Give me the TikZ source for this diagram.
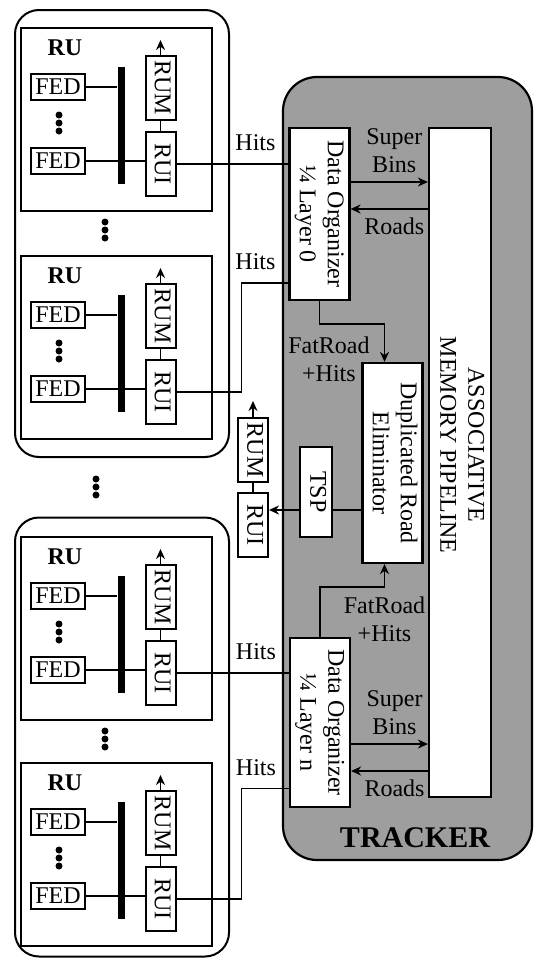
\documentclass[tikz,border=0pt]{standalone}
\usepackage{graphicx}
\usepackage{fontspec}
\setmainfont{Liberation Serif}
\usetikzlibrary{arrows.meta,positioning,calc}

\newcommand{\sideText}[1]{\rotatebox{-90}{\begin{tabular}{@{}c@{}}#1\end{tabular}}}

\begin{document}
\begin{tikzpicture}[
    x=0.5pt, y=-0.5pt,
    font=\fontsize{12}{14}\selectfont,
    groupBox/.style={
        rectangle, rounded corners=12pt, draw, line width=1pt,
        minimum width=107pt, minimum height=223.5pt, inner sep=0pt
    },
    ruBox/.style={
        rectangle, draw, line width=1pt,
        minimum width=95.5pt, minimum height=91.5pt, inner sep=0pt
    },
    fedBox/.style={
        rectangle, draw, line width=1pt,
        minimum width=27pt, minimum height=13pt, inner sep=0.5pt
    },
    busBar/.style={
        rectangle, fill=black, minimum width=3.5pt, minimum height=58.5pt, inner sep=0pt
    },
    ruiBox/.style={
        rectangle, draw, line width=1pt, fill=white,
        minimum width=13.5pt, minimum height=32pt, inner sep=0.5pt
    },
    trackerBox/.style={
        rectangle, rounded corners=17pt, draw, line width=1.1pt, fill=black!38,
        minimum width=124.5pt, minimum height=391.5pt
    },
    procBox/.style={
        rectangle, draw, line width=1.1pt, fill=white, inner sep=1pt
    },
    flowLine/.style={line width=0.9pt},
    flowArrow/.style={-{Stealth[length=5pt, width=4.5pt]}, line width=0.9pt},
    ruLabel/.style={font=\fontsize{12}{14}\selectfont\bfseries},
    textLabel/.style={inner sep=2pt, align=center}
]
\useasboundingbox (0,0) rectangle (535,959);

% Readout unit groups
\node[groupBox] (groupTop) at (122,233.5) {};
\node[groupBox, minimum height=219.5pt] (groupBot) at (122,737) {};

% Readout units
\foreach \i/\y in {1/28,2/256,3/537,4/763} {
    \node[ruBox] (ru\i) at (116.5,\y+91.5) {};
    \node[ruLabel] (ruName\i) at (65,\y+20) {RU};
    \node[fedBox] (fedA\i) at (58,\y+59) {FED};
    \node[fedBox] (fedB\i) at (58,\y+133) {FED};
    \node[busBar] (bus\i) at (121,\y+97) {};
    \node[ruiBox] (rum\i) at (160.5,\y+60) {\sideText{RUM}};
    \node[ruiBox, below=5pt of rum\i] (rui\i) {\sideText{RUI}};
    \foreach \d in {-8,0,8}
        \fill (59,\y+95+\d) circle (1.75pt);
    \draw[flowLine] (fedA\i) -- (fedA\i -| bus\i.west);
    \draw[flowLine] (fedB\i) -- (fedB\i -| rui\i.west);
    \draw[flowLine] (rum\i) -- (rui\i);
    \draw[flowArrow] (rum\i.north) -- ++(0,-15);
}
\foreach \cx/\cy in {105/230, 96/487, 105/739}
    \foreach \d in {-8,0,8}
        \fill (\cx,\cy+\d) circle (1.75pt);

% Tracker
\node[trackerBox] (tracker) at (407.5,468.5) {};
\node[font=\fontsize{15}{17}\selectfont\bfseries] (trackerName) at (415,838) {TRACKER};

\node[procBox, minimum width=27.5pt, minimum height=86pt] (do0) at (319.5,214) {\sideText{Data Organizer\\¼ Layer 0}};
\node[procBox, minimum width=27pt, minimum height=84.5pt] (doN) at (320,722.5) {\sideText{Data Organizer\\¼ Layer n}};
\node[procBox, minimum width=31pt, minimum height=334.5pt] (am) at (460,462.5) {\rotatebox{-90}{\begin{tabular}{@{}c@{}}ASSOCIATIVE\\MEMORY PIPELINE\end{tabular}\hspace{17.5pt}}};
\node[procBox, minimum width=27.5pt, minimum height=100pt] (dre) at (392.5,463) {\sideText{Duplicated Road\\Eliminator}};
\node[procBox, minimum width=13pt, minimum height=45pt] (tsp) at (316,492) {\sideText{TSP}};
\node[ruiBox] (midRum) at (253,450) {\sideText{RUM}};
\node[ruiBox, below=4.5pt of midRum] (midRui) {\sideText{RUI}};

% Hits into the data organizers
\draw[flowLine] (rui1.east) -- (rui1.east -| do0.west) node[textLabel, above left, xshift=-4pt, yshift=4pt] {Hits};
\draw[flowLine] (rui2.east) -- ++(65,0) |- ([yshift=-34.5pt]do0.west) node[textLabel, above left, xshift=-4pt, yshift=4pt] {Hits};
\draw[flowLine] (rui3.east) -- (rui3.east -| doN.west) node[textLabel, above left, xshift=-4pt, yshift=4pt] {Hits};
\draw[flowLine] (rui4.east) -- ++(65,0) |- ([yshift=-33pt]doN.west) node[textLabel, above left, xshift=-4pt, yshift=4pt] {Hits};

% Super bins and roads
\draw[flowArrow] ([yshift=16pt]do0.east) -- ([yshift=16pt]do0.east -| am.west) node[textLabel, midway, above, xshift=2.5pt, yshift=2pt] {Super\\Bins};
\draw[flowArrow] ([yshift=2.5pt]do0.east -| am.west) -- ([yshift=2.5pt]do0.east) node[textLabel, midway, below, xshift=2.5pt, yshift=-2pt] {Roads};
\draw[flowArrow] ([yshift=-10.75pt]doN.east) -- ([yshift=-10.75pt]doN.east -| am.west) node[textLabel, midway, above, xshift=2.5pt, yshift=2pt] {Super\\Bins};
\draw[flowArrow] ([yshift=-24.25pt]doN.east -| am.west) -- ([yshift=-24.25pt]doN.east) node[textLabel, midway, below, xshift=2.5pt, yshift=-2pt] {Roads};

% Fat roads to the eliminator
\draw[flowArrow] (do0.south) -- ++(0,23) -| node[textLabel, pos=0.5, below left, xshift=-5pt, yshift=-4pt] {FatRoad\\+Hits} ([xshift=-4pt]dre.north);
\draw[flowArrow] (doN.north) -- ++(0,-50) -| node[textLabel, pos=0.5, below, yshift=-2.5pt] {FatRoad\\+Hits} ([xshift=-4pt]dre.south);

% Track output
\draw[flowLine] ([yshift=-23.5pt]dre.west) -- ([yshift=-23.5pt]dre.west -| tsp.east);
\draw[flowArrow] ([yshift=-23.5pt]dre.west -| tsp.west) -- ([yshift=-23.5pt]dre.west -| midRui.east);
\draw[flowLine] (midRum) -- (midRui);
\draw[flowArrow] (midRum.north) -- ++(0,-16);

\end{tikzpicture}
\end{document}
